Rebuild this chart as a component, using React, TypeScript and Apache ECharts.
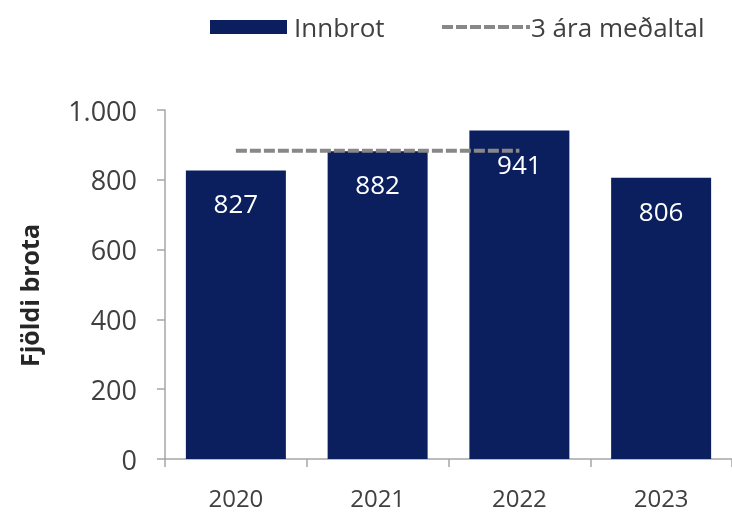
import React, { useEffect, useRef } from "react";
import * as echarts from "echarts";

const categories = ["2020", "2021", "2022", "2023"];
const innbrot = [827, 882, 941, 806];
const average3 = [883, 883, 883, null];
const yTicks = { min: 0, max: 1000, interval: 200 };

const FONT = "'Open Sans', 'Liberation Sans', sans-serif";
const BAR = "#0b1f5f";
const AXIS = "#a6a6a6";
const DASH = "#888888";

export default function App() {
  const ref = useRef<HTMLDivElement>(null);
  useEffect(() => {
    if (!ref.current) return;
    const chart = echarts.init(ref.current, null, { renderer: "svg" });
    chart.setOption({
      animation: false,
      textStyle: { fontFamily: FONT },
      legend: [
        {
          left: 205,
          top: 9,
          data: [{ name: "Innbrot", icon: "rect" }],
          itemWidth: 77,
          itemHeight: 14,
          textStyle: { fontFamily: FONT, fontSize: 26, color: "#404040", padding: [0, 0, 0, 2] },
        },
        {
          left: 435,
          top: 9,
          data: ["3 ára meðaltal"],
          itemWidth: 88,
          itemHeight: 14,
          itemStyle: { opacity: 0 },
          lineStyle: { color: DASH, width: 4, type: [11, 3] },
          textStyle: { fontFamily: FONT, fontSize: 26, color: "#404040", padding: [0, 0, 0, -4] },
        },
      ],
      grid: { left: 165, top: 110, width: 576, height: 349 },
      xAxis: {
        type: "category",
        data: categories,
        axisLine: { show: true, lineStyle: { color: AXIS, width: 1.5 } },
        axisTick: { show: true, length: 8, alignWithLabel: false, lineStyle: { color: AXIS, width: 1.5 } },
        axisLabel: { fontFamily: FONT, fontSize: 24, lineHeight: 22, color: "#404040", margin: 27 },
      },
      yAxis: {
        type: "value",
        min: yTicks.min,
        max: yTicks.max,
        interval: yTicks.interval,
        name: "Fjöldi brota",
        nameLocation: "middle",
        nameRotate: 90,
        nameGap: 124,
        nameTextStyle: {
          fontFamily: FONT,
          fontSize: 25,
          fontWeight: "bold",
          color: "#262626",
          padding: [0, 22, 0, 0],
        },
        axisLine: { show: true, lineStyle: { color: AXIS, width: 1.5 } },
        axisTick: { show: true, length: 8, inside: false, lineStyle: { color: AXIS, width: 1.5 } },
        splitLine: { show: false },
        axisLabel: {
          fontFamily: FONT,
          fontSize: 27,
          color: "#404040",
          margin: 28,
          formatter: (v: number) => v.toString().replace(/\B(?=(\d{3})+(?!\d))/g, "."),
        },
      },
      series: [
        {
          name: "Innbrot",
          type: "bar",
          data: innbrot,
          barWidth: 100,
          itemStyle: { color: BAR },
          label: {
            show: true,
            position: "insideTop",
            distance: 20,
            color: "#ffffff",
            fontFamily: FONT,
            fontSize: 26,
          },
          z: 2,
        },
        {
          name: "3 ára meðaltal",
          type: "line",
          data: average3,
          symbol: "none",
          lineStyle: { color: DASH, width: 4, type: [11, 3] },
          itemStyle: { color: DASH },
          z: 3,
        },
      ],
    });
    return () => chart.dispose();
  }, []);
  return <div ref={ref} style={{ position: "fixed", left: 0, top: 0, width: 732, height: 514 }} />;
}
